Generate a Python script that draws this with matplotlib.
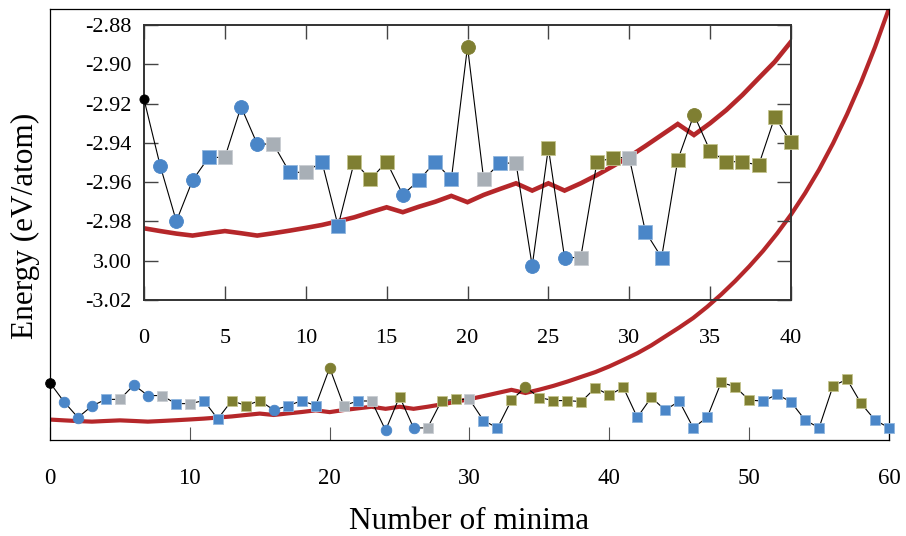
import numpy as np
import matplotlib
matplotlib.use("Agg")
import matplotlib.pyplot as plt

plt.rcParams['font.family'] = ['Liberation Serif', 'DejaVu Serif']

# energia de cada minimo (eV/atom)
minimos = list(range(61))
energia = [-2.9178, -2.9516, -2.9799, -2.9591, -2.9474, -2.9474, -2.9216, -2.9406, -2.9406, -2.9550,
           -2.9550, -2.9496, -2.9823, -2.9496, -2.9586, -2.9496, -2.9664, -2.9591, -2.9496, -2.9586,
           -2.8910, -2.9586, -2.9503, -2.9503, -3.0027, -2.9425, -2.9984, -2.9984, -2.9499, -2.9475,
           -2.9475, -2.9852, -2.9984, -2.9487, -2.9256, -2.9441, -2.9496, -2.9496, -2.9514, -2.9268,
           -2.9397, -2.9260, -2.9796, -2.9439, -2.9666, -2.9505, -2.9982, -2.9796, -2.9170, -2.9250,
           -2.9487, -2.9505, -2.9385, -2.9523, -2.9844, -2.9982, -2.9232, -2.9117, -2.9546, -2.9844,
           -2.9982]

# tipo de cada punto
tipo = ['k', 'bc', 'bc', 'bc', 'bs', 'gs', 'bc', 'bc', 'gs', 'bs',
        'gs', 'bs', 'bs', 'os', 'os', 'os', 'bc', 'bs', 'bs', 'bs',
        'oc', 'gs', 'bs', 'gs', 'bc', 'os', 'bc', 'gs', 'os', 'os',
        'gs', 'bs', 'bs', 'os', 'oc', 'os', 'os', 'os', 'os', 'os',
        'os', 'os', 'bs', 'os', 'bs', 'bs', 'bs', 'bs', 'os', 'os',
        'os', 'bs', 'bs', 'bs', 'bs', 'bs', 'os', 'os', 'os', 'bs',
        'bs']

# curva roja
curva = [-2.9835, -2.9849, -2.9862, -2.9872, -2.9860, -2.9849, -2.9860, -2.9872, -2.9860, -2.9847,
         -2.9833, -2.9818, -2.9799, -2.9779, -2.9753, -2.9728, -2.9753, -2.9725, -2.9700, -2.9670,
         -2.9702, -2.9665, -2.9635, -2.9606, -2.9643, -2.9606, -2.9643, -2.9606, -2.9564, -2.9518,
         -2.9470, -2.9416, -2.9360, -2.9304, -2.9360, -2.9300, -2.9233, -2.9156, -2.9071, -2.8987,
         -2.8885, -2.8770, -2.8650, -2.8510, -2.8350, -2.8190, -2.8020, -2.7820, -2.7600, -2.7360,
         -2.7100, -2.6820, -2.6510, -2.6170, -2.5790, -2.5370, -2.4900, -2.4380, -2.3810, -2.3180,
         -2.2490]

x_main_ticks = [0, 10, 20, 30, 40, 50, 60]
x_ins_ticks = [0, 5, 10, 15, 20, 25, 30, 35, 40]
y_ins_ticks = [-3.02, -3.00, -2.98, -2.96, -2.94, -2.92, -2.90, -2.88]
y_ins_text = ['-3.02', '3.00', '-2.98', '-2.96', '-2.94', '-2.92', '-2.90', '-2.88']

colores = {'k': 'black', 'bc': '#4a86c8', 'bs': '#4a86c8', 'gs': '#a8afb6',
           'os': '#7f7f32', 'oc': '#7f7f32'}
bordes = {'k': 'black', 'bc': '#4a86c8', 'bs': '#8fb5de', 'gs': '#c9cdd2',
          'os': '#c4c48e', 'oc': '#7f7f32'}

x = np.array(minimos)
e = np.array(energia)


def dibujar(ax, n, ms_c, ms_s, ms_k, lw_red):
    ax.plot(x[:n], np.array(curva)[:n], color='#b5272a', lw=lw_red, zorder=2,
            solid_joinstyle='miter')
    ax.plot(x[:n], e[:n], color='black', lw=0.8, zorder=3)
    for i in range(n):
        t = tipo[i]
        if t == 'k':
            m, ms = 'o', ms_k
        elif t.endswith('c'):
            m, ms = 'o', ms_c
        else:
            m, ms = 's', ms_s
        ax.plot(x[i], e[i], marker=m, ms=ms, color=colores[t],
                markeredgecolor=bordes[t], markeredgewidth=0.6, zorder=4,
                clip_on=False)


fig = plt.figure(figsize=(9.06, 5.36), dpi=100)

ax = fig.add_axes([50/906, 1-440/536, 839/906, 431/536])
dibujar(ax, 61, 7.6, 7.0, 7.0, 3.0)
ax.set_xlim(0, 60)
ax.set_ylim(-3.02, -2.25)
ax.set_xticks(x_main_ticks)
ax.set_yticks([])
ax.tick_params(axis='x', direction='in', length=9.5, width=0.8, color='#555555',
               labelsize=16.5, pad=20)
for s in ax.spines.values():
    s.set_linewidth(0.9)

ins = fig.add_axes([144/906, 1-300/536, 647/906, 275/536])
ins.patch.set_alpha(0)
dibujar(ins, 41, 10.0, 9.4, 6.6, 3.3)
ins.set_xlim(0, 40)
ins.set_ylim(-3.02, -2.88)
ins.set_xticks(x_ins_ticks)
ins.set_yticks(y_ins_ticks)
ins.set_yticklabels(y_ins_text)
ins.tick_params(direction='in', length=10, width=1.0, color='#444444',
                top=True, right=True, labelsize=16)
ins.tick_params(axis='x', pad=21)
ins.tick_params(axis='y', pad=9)
for s in ins.spines.values():
    s.set_linewidth(1.4)
    s.set_color('#333333')

fig.text(25/906, 1-226/536, 'Energy (eV/atom)', rotation=90, ha='center', va='center',
         fontsize=22.5)
fig.text(469.5/906, 1-529/536, 'Number of minima', ha='center', va='baseline',
         fontsize=22.5)

plt.savefig('out.png', dpi=100)
